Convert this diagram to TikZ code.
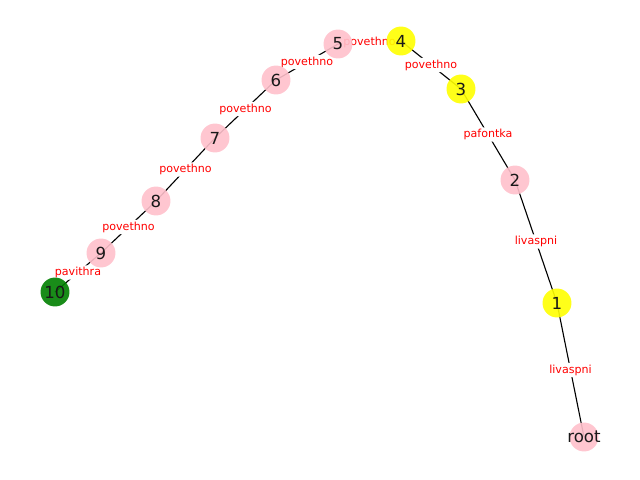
\documentclass[tikz,border=0pt]{standalone}
\usepackage{fontspec}
\setmainfont{DejaVu Sans}
\usetikzlibrary{positioning, backgrounds}
\definecolor{nodepink}{RGB}{255,192,203}
\definecolor{nodeyellow}{RGB}{255,255,0}
\definecolor{nodegreen}{RGB}{0,128,0}

\begin{document}
\begin{tikzpicture}[x=0.01in, y=-0.01in,
    vertex/.style={circle, inner sep=0pt, minimum size=20.9pt, fill opacity=0.9},
    vtext/.style={inner sep=0pt, text=black!90, font=\fontsize{12}{14}\selectfont},
    edgelabel/.style={fill=white, rounded corners=2pt, inner sep=1.2pt, text=red, font=\fontsize{8}{9}\selectfont}]
    \useasboundingbox (0,0) rectangle (640,480);

    % Nodes (text as a centred label, so the disc keeps its size)
    \foreach \name/\x/\y/\col in {root/584/437/nodepink, 1/557/303/nodeyellow,
            2/515/180/nodepink, 3/461/89/nodeyellow, 4/401/41/nodeyellow,
            5/338/44/nodepink, 6/276/80/nodepink, 7/215/138/nodepink,
            8/156/201/nodepink, 9/101/253/nodepink, 10/55/292/nodegreen} {
        \node[vertex, fill=\col, label={[vtext]center:\name}] (n\name) at (\x,\y) {};
    }

    % Edges with their labels, under the nodes
    \begin{scope}[on background layer]
    \foreach \a/\b/\lab in {root/1/livaspni, 1/2/livaspni, 2/3/pafontka,
            3/4/povethno, 4/5/povethno, 5/6/povethno, 6/7/povethno,
            7/8/povethno, 8/9/povethno, 9/10/pavithra} {
        \draw[line width=0.8pt] (n\a.center) -- (n\b.center)
            node[midway, edgelabel] (l\a) {\lab};
    }
    \end{scope}
\end{tikzpicture}
\end{document}
